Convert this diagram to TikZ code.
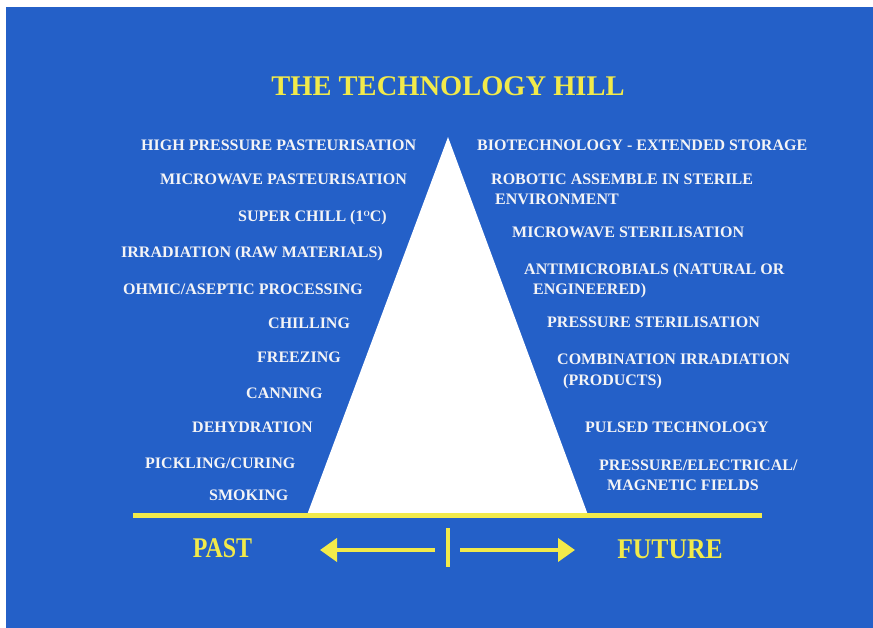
\documentclass[tikz,border=0pt]{standalone}
\usepackage{fontspec}
\setmainfont{Liberation Serif}
\usetikzlibrary{arrows.meta}
\definecolor{hillblue}{RGB}{36,96,200}
\definecolor{hillyellow}{RGB}{242,234,74}
\definecolor{hilltext}{RGB}{244,244,246}
\begin{document}
\begin{tikzpicture}[x=1pt,y=-1pt,
  every node/.style={inner sep=0pt},
  item/.style={anchor=base west,text=hilltext,font=\fontsize{16}{20.5}\selectfont\bfseries,align=left},
  heading/.style={text=hillyellow,font=\fontsize{28.5}{30}\selectfont\bfseries},
  era/.style={text=hillyellow,font=\fontsize{28.5}{30}\selectfont\bfseries},
  timeline/.style={hillyellow,line width=4pt}]
\useasboundingbox (0,0) rectangle (873,628);
\fill[white] (0,0) rectangle (873,628);
\fill[hillblue] (6,7) rectangle (873,628);
\fill[white] (448,137) -- (588,515) -- (307,515) -- cycle;
\draw[hillyellow,line width=5pt] (133,515) -- (762,515);
\node[heading] (title) at (448,86) {THE TECHNOLOGY HILL};
\node[item] (hpp) at (141,150.3) {HIGH PRESSURE PASTEURISATION};
\node[item] (mwp) at (160,184.3) {MICROWAVE PASTEURISATION};
\node[item] (superchill) at (238,221.3) {SUPER CHILL (1\raisebox{5pt}{\fontsize{8}{8}\selectfont O}C)};
\node[item] (irrad) at (121,257.3) {IRRADIATION (RAW MATERIALS)};
\node[item] (ohmic) at (123,294.3) {OHMIC/ASEPTIC PROCESSING};
\node[item] (chilling) at (268,328.3) {CHILLING};
\node[item] (freezing) at (257,362.3) {FREEZING};
\node[item] (canning) at (246,398.3) {CANNING};
\node[item] (dehyd) at (192,432.3) {DEHYDRATION};
\node[item] (pickling) at (145,468.3) {PICKLING/CURING};
\node[item] (smoking) at (209,500.3) {SMOKING};
\node[item] (biotech) at (477,150.3) {BIOTECHNOLOGY - EXTENDED STORAGE};
\node[item] (robotic) at (491,205) {ROBOTIC ASSEMBLE IN STERILE\\\hspace{4pt}ENVIRONMENT};
\node[item] (mws) at (512,237.3) {MICROWAVE STERILISATION};
\node[item] (antimic) at (524,294.5) {ANTIMICROBIALS (NATURAL OR\\\hspace{9pt}ENGINEERED)};
\node[item] (pst) at (547,327.3) {PRESSURE STERILISATION};
\node[item] (combirr) at (557,385) {COMBINATION IRRADIATION\\\hspace{6pt}(PRODUCTS)};
\node[item] (pulsed) at (585,432.3) {PULSED TECHNOLOGY};
\node[item] (fields) at (599,490.5) {PRESSURE/ELECTRICAL/\\\hspace{8pt}MAGNETIC FIELDS};
\node[era,xscale=0.84] (past) at (222.5,548) {PAST};
\node[era,xscale=0.9] (future) at (670,549) {FUTURE};
\coordinate (bartop) at (448,528);
\coordinate (barbot) at (448,567);
\coordinate (leftfrom) at (435,550);
\coordinate (leftto) at (320,550);
\coordinate (rightfrom) at (460,550);
\coordinate (rightto) at (575,550);
\draw[timeline] (bartop) -- (barbot);
\draw[timeline,-{Triangle[length=17pt,width=23pt]}] (leftfrom) -- (leftto);
\draw[timeline,-{Triangle[length=17pt,width=23pt]}] (rightfrom) -- (rightto);
\end{tikzpicture}
\end{document}
